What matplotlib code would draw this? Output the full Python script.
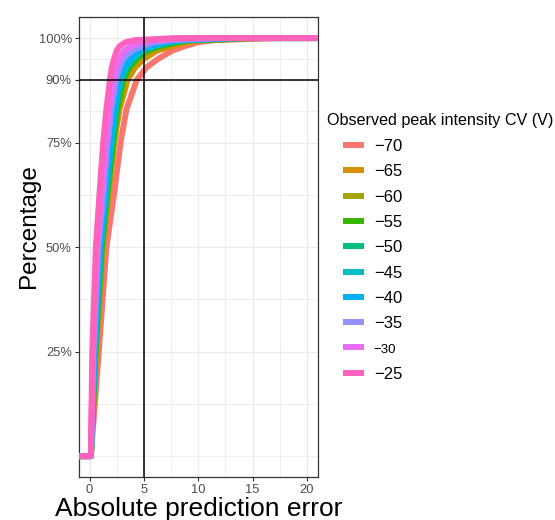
import matplotlib
matplotlib.use("Agg")
import matplotlib.pyplot as plt
from matplotlib.ticker import FixedLocator, FuncFormatter

plt.rcParams['font.family'] = ['Liberation Sans', 'DejaVu Sans']

# cumulative percentage levels shared by every CV curve
pct_levels = [0, 25, 50, 63, 75, 83, 90, 93, 95, 97, 98, 99, 99.5, 100]

# absolute prediction error reached at each level, one list per CV
err_m70 = [0.12, 0.85, 1.55, 2.27, 2.85, 3.4, 4.35, 5.25, 6.3, 7.6, 8.7, 10.0, 11.5, 17]
err_m65 = [0.12, 0.6, 1.2, 1.75, 2.27, 2.75, 3.5, 4.2, 5.0, 6.2, 7.5, 9.0, 10.5, 16]
err_m60 = [0.12, 0.57, 1.15, 1.7, 2.2, 2.6, 3.2, 3.8, 4.5, 5.6, 6.8, 8.3, 9.8, 15]
err_m55 = [0.12, 0.55, 1.12, 1.65, 2.17, 2.55, 3.1, 3.65, 4.3, 5.3, 6.4, 8.0, 9.5, 15]
err_m50 = [0.12, 0.5, 1.05, 1.57, 2.07, 2.45, 2.94, 3.45, 4.1, 5.0, 6.0, 7.5, 9.0, 14]
err_m45 = [0.12, 0.47, 1.0, 1.5, 1.98, 2.35, 2.8, 3.3, 3.9, 4.8, 5.8, 7.3, 8.8, 14]
err_m40 = [0.12, 0.43, 0.92, 1.42, 1.86, 2.22, 2.7, 3.15, 3.7, 4.5, 5.5, 7.0, 8.5, 13]
err_m35 = [0.12, 0.37, 0.8, 1.27, 1.67, 2.0, 2.45, 2.75, 3.1, 3.9, 4.8, 6.0, 7.5, 12]
err_m30 = [0.12, 0.31, 0.7, 1.1, 1.49, 1.8, 2.2, 2.45, 2.7, 3.2, 3.8, 4.8, 6.0, 10]
err_m25 = [0.12, 0.25, 0.58, 0.92, 1.25, 1.55, 1.87, 2.05, 2.25, 2.5, 2.75, 3.3, 4.2, 8]

cv_labels = ['\u221270', '\u221265', '\u221260', '\u221255', '\u221250',
             '\u221245', '\u221240', '\u221235', '\u221230', '\u221225']
cv_errors = [err_m70, err_m65, err_m60, err_m55, err_m50,
             err_m45, err_m40, err_m35, err_m30, err_m25]
colors = ['#F8766D', '#D89000', '#A3A500', '#39B600', '#00BF7D',
          '#00BFC4', '#00B0F6', '#9590FF', '#E76BF3', '#FF62BC']

fig = plt.figure(figsize=(5.55, 5.2), dpi=100)
ax = fig.add_axes([0.1418, 0.0827, 0.4306, 0.8843])

# ecdf style curves, padded to the left and right of the visible range
for lab, errs, col in zip(cv_labels, cv_errors, colors):
    ax.plot([-5] + errs + [25], [0] + pct_levels + [100], color=col, lw=4.3,
            solid_capstyle='butt', solid_joinstyle='round', label=lab, zorder=3)

ax.axvline(5, color='black', lw=1.1, zorder=4)
ax.axhline(90, color='black', lw=1.1, zorder=4)

ax.set_xlim(-1, 21)
ax.set_ylim(-5, 105)

ax.xaxis.set_major_locator(FixedLocator([0, 5, 10, 15, 20]))
ax.xaxis.set_minor_locator(FixedLocator([2.5, 7.5, 12.5, 17.5]))
ax.yaxis.set_major_locator(FixedLocator([25, 50, 75, 90, 100]))
ax.yaxis.set_minor_locator(FixedLocator([0, 12.5, 37.5, 62.5, 82.5, 95]))
ax.yaxis.set_major_formatter(FuncFormatter(lambda v, p: '%d%%' % v))

ax.grid(True, which='major', color='#EBEBEB', lw=1.0, zorder=0)
ax.grid(True, which='minor', color='#EBEBEB', lw=0.6, zorder=0)
ax.set_axisbelow(True)
ax.tick_params(which='major', length=3, width=0.8, color='#333333',
               labelsize=9.3, labelcolor='#4D4D4D', pad=2)
ax.tick_params(which='minor', length=0)
for s in ax.spines.values():
    s.set_color('#333333')
    s.set_linewidth(0.9)

ax.set_xlabel('Absolute prediction error', fontsize=19, labelpad=1)
ax.set_ylabel('Percentage', fontsize=17.5)
ax.yaxis.set_label_coords(-0.163, 0.546)

# legend title sits a little left of the keys
fig.text(327 / 555, 1 - 120 / 520, 'Observed peak intensity CV (V)',
         fontsize=11.6, ha='left', va='center')
leg = ax.legend(loc='upper left',
                bbox_to_anchor=(343 / 555, 1 - 139 / 520), bbox_transform=fig.transFigure,
                frameon=False, fontsize=12, handlelength=1.25, handletextpad=0.6,
                labelspacing=0.62, borderpad=0, borderaxespad=0)
for line in leg.get_lines():
    line.set_linewidth(4.3)
# the -30 entry is set in a smaller face
leg.get_texts()[8].set_fontsize(9.5)

fig.savefig('out.png', dpi=100)
